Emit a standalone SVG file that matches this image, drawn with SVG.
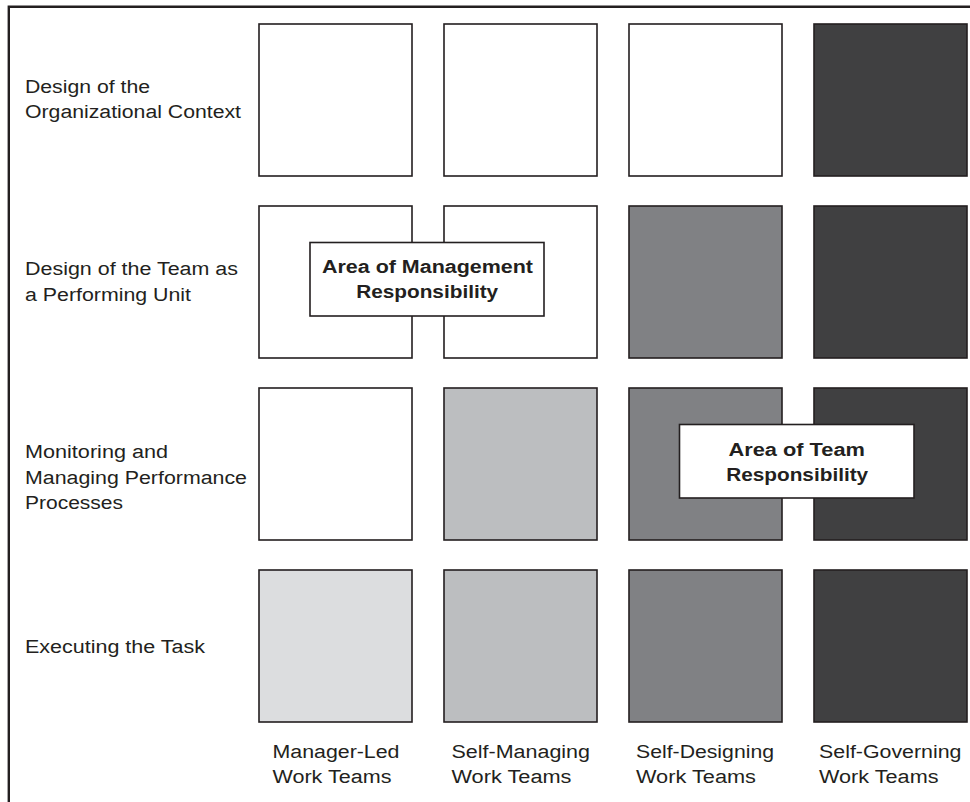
<svg xmlns="http://www.w3.org/2000/svg" width="970" height="802" viewBox="0 0 970 802">
<style>
  .frame { fill: none; stroke: #231f20; stroke-width: 2.4; }
  .cell { stroke: #231f20; stroke-width: 1.6; }
  .w { fill: #ffffff; }
  .l1 { fill: #dcdddf; }
  .l2 { fill: #bcbec0; }
  .m { fill: #808184; }
  .d { fill: #404041; }
  .lbl { font-family: "Liberation Sans", Arial, sans-serif; font-size: 18px; fill: #231f20; }
  .bold { font-family: "Liberation Sans", Arial, sans-serif; font-size: 17.5px; font-weight: bold; fill: #231f20; text-anchor: middle; }
  .callout { fill: #ffffff; stroke: #231f20; stroke-width: 1.6; }
</style>
<rect x="0" y="0" width="970" height="802" fill="#ffffff"/>
<path class="frame" d="M8.8,802 V6.8 H972"/>

<g id="row-labels">
  <g id="label-org-context">
    <text class="lbl" x="25" y="93" textLength="125" lengthAdjust="spacingAndGlyphs">Design of the</text>
    <text class="lbl" x="25" y="118" textLength="216" lengthAdjust="spacingAndGlyphs">Organizational Context</text>
  </g>
  <g id="label-team-design">
    <text class="lbl" x="25" y="275" textLength="213" lengthAdjust="spacingAndGlyphs">Design of the Team as</text>
    <text class="lbl" x="25" y="300.5" textLength="166" lengthAdjust="spacingAndGlyphs">a Performing Unit</text>
  </g>
  <g id="label-monitoring">
    <text class="lbl" x="25" y="458" textLength="143" lengthAdjust="spacingAndGlyphs">Monitoring and</text>
    <text class="lbl" x="25" y="483.5" textLength="222" lengthAdjust="spacingAndGlyphs">Managing Performance</text>
    <text class="lbl" x="25" y="509" textLength="98" lengthAdjust="spacingAndGlyphs">Processes</text>
  </g>
  <g id="label-executing">
    <text class="lbl" x="25" y="653" textLength="180" lengthAdjust="spacingAndGlyphs">Executing the Task</text>
  </g>
</g>

<g id="grid">
  <g id="r1c1"><rect class="cell w" x="259" y="24" width="153" height="152"/></g>
  <g id="r1c2"><rect class="cell w" x="444" y="24" width="153" height="152"/></g>
  <g id="r1c3"><rect class="cell w" x="629" y="24" width="153" height="152"/></g>
  <g id="r1c4"><rect class="cell d" x="814" y="24" width="153" height="152"/></g>

  <g id="r2c1"><rect class="cell w" x="259" y="206" width="153" height="152"/></g>
  <g id="r2c2"><rect class="cell w" x="444" y="206" width="153" height="152"/></g>
  <g id="r2c3"><rect class="cell m" x="629" y="206" width="153" height="152"/></g>
  <g id="r2c4"><rect class="cell d" x="814" y="206" width="153" height="152"/></g>

  <g id="r3c1"><rect class="cell w" x="259" y="388" width="153" height="152"/></g>
  <g id="r3c2"><rect class="cell l2" x="444" y="388" width="153" height="152"/></g>
  <g id="r3c3"><rect class="cell m" x="629" y="388" width="153" height="152"/></g>
  <g id="r3c4"><rect class="cell d" x="814" y="388" width="153" height="152"/></g>

  <g id="r4c1"><rect class="cell l1" x="259" y="570" width="153" height="152"/></g>
  <g id="r4c2"><rect class="cell l2" x="444" y="570" width="153" height="152"/></g>
  <g id="r4c3"><rect class="cell m" x="629" y="570" width="153" height="152"/></g>
  <g id="r4c4"><rect class="cell d" x="814" y="570" width="153" height="152"/></g>
</g>

<g id="management-area">
  <rect class="callout" x="310" y="242.5" width="234" height="73.5"/>
  <text class="bold" x="427.5" y="272.7" textLength="211" lengthAdjust="spacingAndGlyphs">Area of Management</text>
  <text class="bold" x="427.2" y="297.5" textLength="142" lengthAdjust="spacingAndGlyphs">Responsibility</text>
</g>

<g id="team-area">
  <rect class="callout" x="679.5" y="424.5" width="234.5" height="73.5"/>
  <text class="bold" x="796.7" y="456" textLength="136.5" lengthAdjust="spacingAndGlyphs">Area of Team</text>
  <text class="bold" x="797.2" y="480.7" textLength="142" lengthAdjust="spacingAndGlyphs">Responsibility</text>
</g>

<g id="column-labels">
  <g id="label-manager-led">
    <text class="lbl" x="272.5" y="758" textLength="127" lengthAdjust="spacingAndGlyphs">Manager-Led</text>
    <text class="lbl" x="272.5" y="782.7" textLength="119" lengthAdjust="spacingAndGlyphs">Work Teams</text>
  </g>
  <g id="label-self-managing">
    <text class="lbl" x="451.5" y="758" textLength="138.5" lengthAdjust="spacingAndGlyphs">Self-Managing</text>
    <text class="lbl" x="451.5" y="782.7" textLength="120" lengthAdjust="spacingAndGlyphs">Work Teams</text>
  </g>
  <g id="label-self-designing">
    <text class="lbl" x="636" y="758" textLength="138" lengthAdjust="spacingAndGlyphs">Self-Designing</text>
    <text class="lbl" x="636" y="782.7" textLength="120" lengthAdjust="spacingAndGlyphs">Work Teams</text>
  </g>
  <g id="label-self-governing">
    <text class="lbl" x="819" y="758" textLength="142.5" lengthAdjust="spacingAndGlyphs">Self-Governing</text>
    <text class="lbl" x="819" y="782.7" textLength="119.5" lengthAdjust="spacingAndGlyphs">Work Teams</text>
  </g>
</g>
</svg>
